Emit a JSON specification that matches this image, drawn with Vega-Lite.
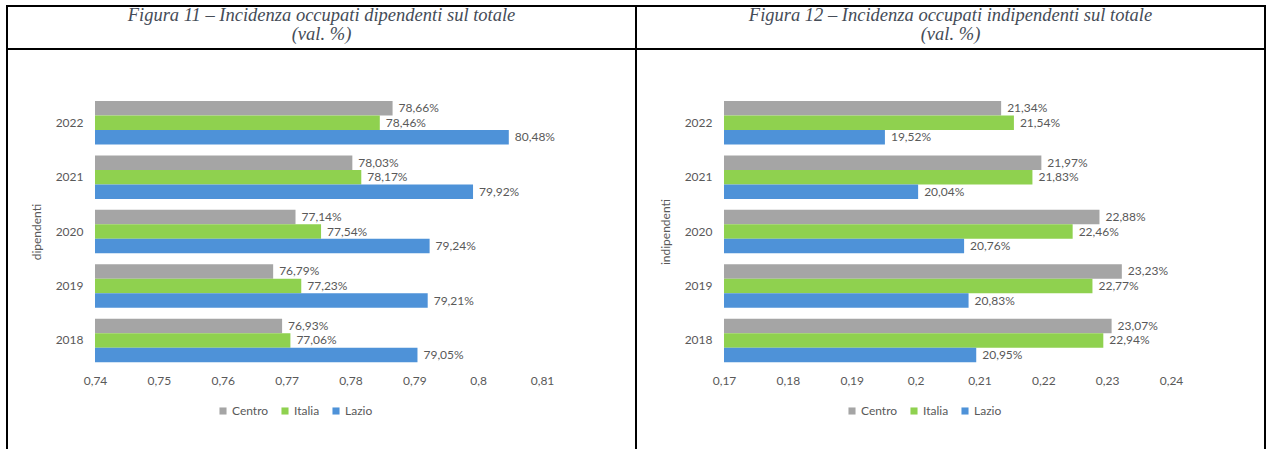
{
  "$schema": "https://vega.github.io/schema/vega-lite/v6.json",
  "padding": {"left": 6, "top": 5, "right": 0, "bottom": 0},
  "background": "white",
  "bounds": "flush",
  "spacing": 0,
  "columns": 2,
  "config": {
    "view": {"stroke": "black", "strokeWidth": 2},
    "locale": {"number": {"decimal": ",", "thousands": ".", "grouping": [3], "currency": ["", " €"]}},
    "axis": {"labelFont": "Lato", "labelFontSize": 12, "labelColor": "#595959", "titleFont": "Lato", "titleFontSize": 12, "titleFontWeight": "normal", "titleColor": "#595959", "grid": false, "domain": false, "ticks": false, "labelFlush": false},
    "legend": {"labelFont": "Lato", "labelFontSize": 12, "labelColor": "#595959"}
  },
  "datasets": {
    "titoli": [
      {"pannello": "dip", "riga": 1, "testo": "Figura 11 – Incidenza occupati dipendenti sul totale"},
      {"pannello": "dip", "riga": 2, "testo": "(val. %)"},
      {"pannello": "ind", "riga": 1, "testo": "Figura 12 – Incidenza occupati indipendenti sul totale"},
      {"pannello": "ind", "riga": 2, "testo": "(val. %)"}
    ],
    "dip": [
      {"anno": 2022, "area": "Centro", "valore": 0.7866},
      {"anno": 2022, "area": "Italia", "valore": 0.7846},
      {"anno": 2022, "area": "Lazio", "valore": 0.8048},
      {"anno": 2021, "area": "Centro", "valore": 0.7803},
      {"anno": 2021, "area": "Italia", "valore": 0.7817},
      {"anno": 2021, "area": "Lazio", "valore": 0.7992},
      {"anno": 2020, "area": "Centro", "valore": 0.7714},
      {"anno": 2020, "area": "Italia", "valore": 0.7754},
      {"anno": 2020, "area": "Lazio", "valore": 0.7924},
      {"anno": 2019, "area": "Centro", "valore": 0.7679},
      {"anno": 2019, "area": "Italia", "valore": 0.7723},
      {"anno": 2019, "area": "Lazio", "valore": 0.7921},
      {"anno": 2018, "area": "Centro", "valore": 0.7693},
      {"anno": 2018, "area": "Italia", "valore": 0.7706},
      {"anno": 2018, "area": "Lazio", "valore": 0.7905}
    ],
    "ind": [
      {"anno": 2022, "area": "Centro", "valore": 0.2134},
      {"anno": 2022, "area": "Italia", "valore": 0.2154},
      {"anno": 2022, "area": "Lazio", "valore": 0.1952},
      {"anno": 2021, "area": "Centro", "valore": 0.2197},
      {"anno": 2021, "area": "Italia", "valore": 0.2183},
      {"anno": 2021, "area": "Lazio", "valore": 0.2004},
      {"anno": 2020, "area": "Centro", "valore": 0.2288},
      {"anno": 2020, "area": "Italia", "valore": 0.2246},
      {"anno": 2020, "area": "Lazio", "valore": 0.2076},
      {"anno": 2019, "area": "Centro", "valore": 0.2323},
      {"anno": 2019, "area": "Italia", "valore": 0.2277},
      {"anno": 2019, "area": "Lazio", "valore": 0.2083},
      {"anno": 2018, "area": "Centro", "valore": 0.2307},
      {"anno": 2018, "area": "Italia", "valore": 0.2294},
      {"anno": 2018, "area": "Lazio", "valore": 0.2095}
    ]
  },
  "resolve": {"scale": {"color": "independent", "x": "independent", "y": "independent"}, "legend": {"color": "independent"}},
  "concat": [
    {
      "width": 629,
      "height": 43,
      "data": {"name": "titoli"},
      "transform": [{"filter": "datum.pannello == 'dip'"}],
      "mark": {"type": "text", "font": "Liberation Serif", "fontStyle": "italic", "fontSize": 18.5, "color": "#454C57", "align": "center", "baseline": "middle"},
      "encoding": {
        "y": {"field": "riga", "type": "ordinal", "axis": null, "scale": {"range": [9, 28], "padding": 0}},
        "text": {"field": "testo"}
      }
    },
    {
      "width": 629,
      "height": 43,
      "data": {"name": "titoli"},
      "transform": [{"filter": "datum.pannello == 'ind'"}],
      "mark": {"type": "text", "font": "Liberation Serif", "fontStyle": "italic", "fontSize": 18.5, "color": "#454C57", "align": "center", "baseline": "middle"},
      "encoding": {
        "y": {"field": "riga", "type": "ordinal", "axis": null, "scale": {"range": [9, 28], "padding": 0}},
        "text": {"field": "testo"}
      }
    },
    {
      "width": 629,
      "height": 405,
      "data": {"name": "dip"},
      "encoding": {
        "y": {"field": "anno", "type": "ordinal", "sort": "descending", "scale": {"range": [46.6, 318.6], "paddingInner": 0.2, "paddingOuter": 0.1}, "axis": {"title": "dipendenti", "offset": -88, "labelPadding": 12, "titlePadding": 12}},
        "yOffset": {"field": "area", "sort": ["Centro", "Italia", "Lazio"], "scale": {"paddingInner": 0}},
        "x": {"field": "valore", "type": "quantitative", "scale": {"domain": [0.74, 0.81], "range": [88, 535], "zero": false, "nice": false}, "axis": {"title": null, "values": [0.74, 0.75, 0.76, 0.77, 0.78, 0.79, 0.8, 0.81], "format": ".2~f", "offset": -87, "labelPadding": 8}}
      },
      "layer": [
        {
          "mark": {"type": "bar"},
          "encoding": {
            "x2": {"datum": 0.74},
            "color": {"field": "area", "type": "nominal", "scale": {"domain": ["Centro", "Italia", "Lazio"], "range": ["#A5A5A5", "#8FD14F", "#4E92D8"]}, "legend": {"title": null, "orient": "none", "legendX": 210, "legendY": 356, "direction": "horizontal", "symbolType": "square", "symbolSize": 50, "symbolStrokeWidth": 0, "columnPadding": 10, "labelOffset": 3}}
          }
        },
        {
          "mark": {"type": "text", "align": "left", "baseline": "middle", "dx": 6, "font": "Lato", "fontSize": 12, "color": "#595959"},
          "encoding": {"text": {"field": "valore", "type": "quantitative", "format": ".2%"}}
        }
      ]
    },
    {
      "width": 629,
      "height": 405,
      "data": {"name": "ind"},
      "encoding": {
        "y": {"field": "anno", "type": "ordinal", "sort": "descending", "scale": {"range": [46.6, 318.6], "paddingInner": 0.2, "paddingOuter": 0.1}, "axis": {"title": "indipendenti", "offset": -88, "labelPadding": 12, "titlePadding": 12}},
        "yOffset": {"field": "area", "sort": ["Centro", "Italia", "Lazio"], "scale": {"paddingInner": 0}},
        "x": {"field": "valore", "type": "quantitative", "scale": {"domain": [0.17, 0.24], "range": [88, 535], "zero": false, "nice": false}, "axis": {"title": null, "values": [0.17, 0.18, 0.19, 0.2, 0.21, 0.22, 0.23, 0.24], "format": ".2~f", "offset": -87, "labelPadding": 8}}
      },
      "layer": [
        {
          "mark": {"type": "bar"},
          "encoding": {
            "x2": {"datum": 0.17},
            "color": {"field": "area", "type": "nominal", "scale": {"domain": ["Centro", "Italia", "Lazio"], "range": ["#A5A5A5", "#8FD14F", "#4E92D8"]}, "legend": {"title": null, "orient": "none", "legendX": 210, "legendY": 356, "direction": "horizontal", "symbolType": "square", "symbolSize": 50, "symbolStrokeWidth": 0, "columnPadding": 10, "labelOffset": 3}}
          }
        },
        {
          "mark": {"type": "text", "align": "left", "baseline": "middle", "dx": 6, "font": "Lato", "fontSize": 12, "color": "#595959"},
          "encoding": {"text": {"field": "valore", "type": "quantitative", "format": ".2%"}}
        }
      ]
    }
  ]
}
